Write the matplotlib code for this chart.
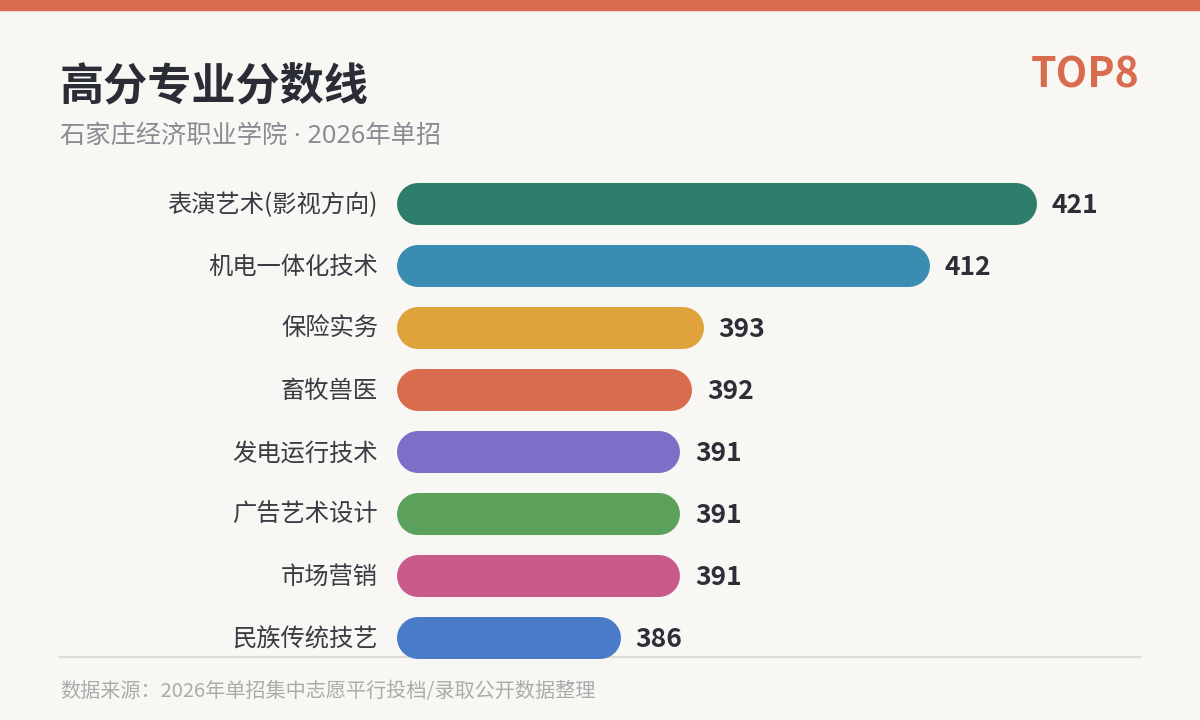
import matplotlib
matplotlib.use("Agg")
import matplotlib.pyplot as plt
from matplotlib.patches import Rectangle
from matplotlib.lines import Line2D

plt.rcParams['font.family'] = ['Noto Sans CJK SC', 'DejaVu Sans']

# data
majors = ["表演艺术(影视方向)", "机电一体化技术", "保险实务", "畜牧兽医",
          "发电运行技术", "广告艺术设计", "市场营销", "民族传统技艺"]
scores = [421, 412, 393, 392, 391, 391, 391, 386]
colors = ["#2E7D6B", "#3A8DB0", "#E0A23A", "#D96C4F",
          "#7B6FC8", "#5BA05B", "#C95B8A", "#4A7BC8"]
title = "高分专业分数线"
subtitle = "石家庄经济职业学院 · 2026年单招"
badge = "TOP8"
source = "数据来源：2026年单招集中志愿平行投档/录取公开数据整理"

BG = "#F8F7F4"
ACCENT = "#D96C4F"
W, H = 1200, 720

fig = plt.figure(figsize=(12, 7.2), dpi=100)
fig.patch.set_facecolor(BG)

# top stripe
fig.add_artist(Rectangle((0, 1 - 10 / H), 1, 10 / H, transform=fig.transFigure,
                         color=ACCENT, zorder=0))

# header texts
fig.text(60 / W, 1 - 87 / H, title, fontsize=31.8, fontweight='bold',
         color="#2B2D36", va='center', ha='left')
fig.text(60 / W, 1 - 136 / H, subtitle, fontsize=18.2, color="#8A8C93",
         va='center', ha='left', family=['Noto Sans', 'Noto Sans CJK SC'])
fig.text(1140 / W, 1 - 75 / H, badge, fontsize=29.5, fontweight='bold',
         color=ACCENT, va='center', ha='right')

# separator + footer
fig.add_artist(Line2D([60 / W, 1140 / W], [1 - 657 / H, 1 - 657 / H],
                      transform=fig.transFigure, color="#DDDBD6", lw=1.5, zorder=0))
fig.text(60 / W, 1 - 691 / H, source, fontsize=14.5, color="#ABABAB",
         va='center', ha='left')

# bar area
left_px, right_px, top_px, bot_px = 397, 1140, 173, 669
ax = fig.add_axes([left_px / W, 1 - bot_px / H, (right_px - left_px) / W, (bot_px - top_px) / H])
ax.set_facecolor("none")
ax.set_zorder(2)
base = 367.2
ax.set_xlim(base, base + (right_px - left_px) / 11.89)
ax.set_ylim(len(majors) - 0.5, -0.5)
ax.axis('off')

px_x = (right_px - left_px) / (ax.get_xlim()[1] - ax.get_xlim()[0])
bar_px = 42
r = bar_px / 2 / px_x  # cap radius in data units

for i, (name, val, c) in enumerate(zip(majors, scores, colors)):
    # pill-shaped bar: thick line with round caps
    ax.plot([base + r, val - r], [i, i], color=c, lw=bar_px * 0.72,
            solid_capstyle='round', clip_on=False)
    ax.text(val + 15 / px_x, i + 0.02, str(val), fontsize=19, fontweight='bold',
            color="#2D2F38", va='center', ha='left')
    ax.text(base - 19 / px_x, i + 0.02, name, fontsize=17.5, color="#3A3C44",
            va='center', ha='right', clip_on=False)

fig.savefig("out.png", dpi=100, facecolor=BG)
